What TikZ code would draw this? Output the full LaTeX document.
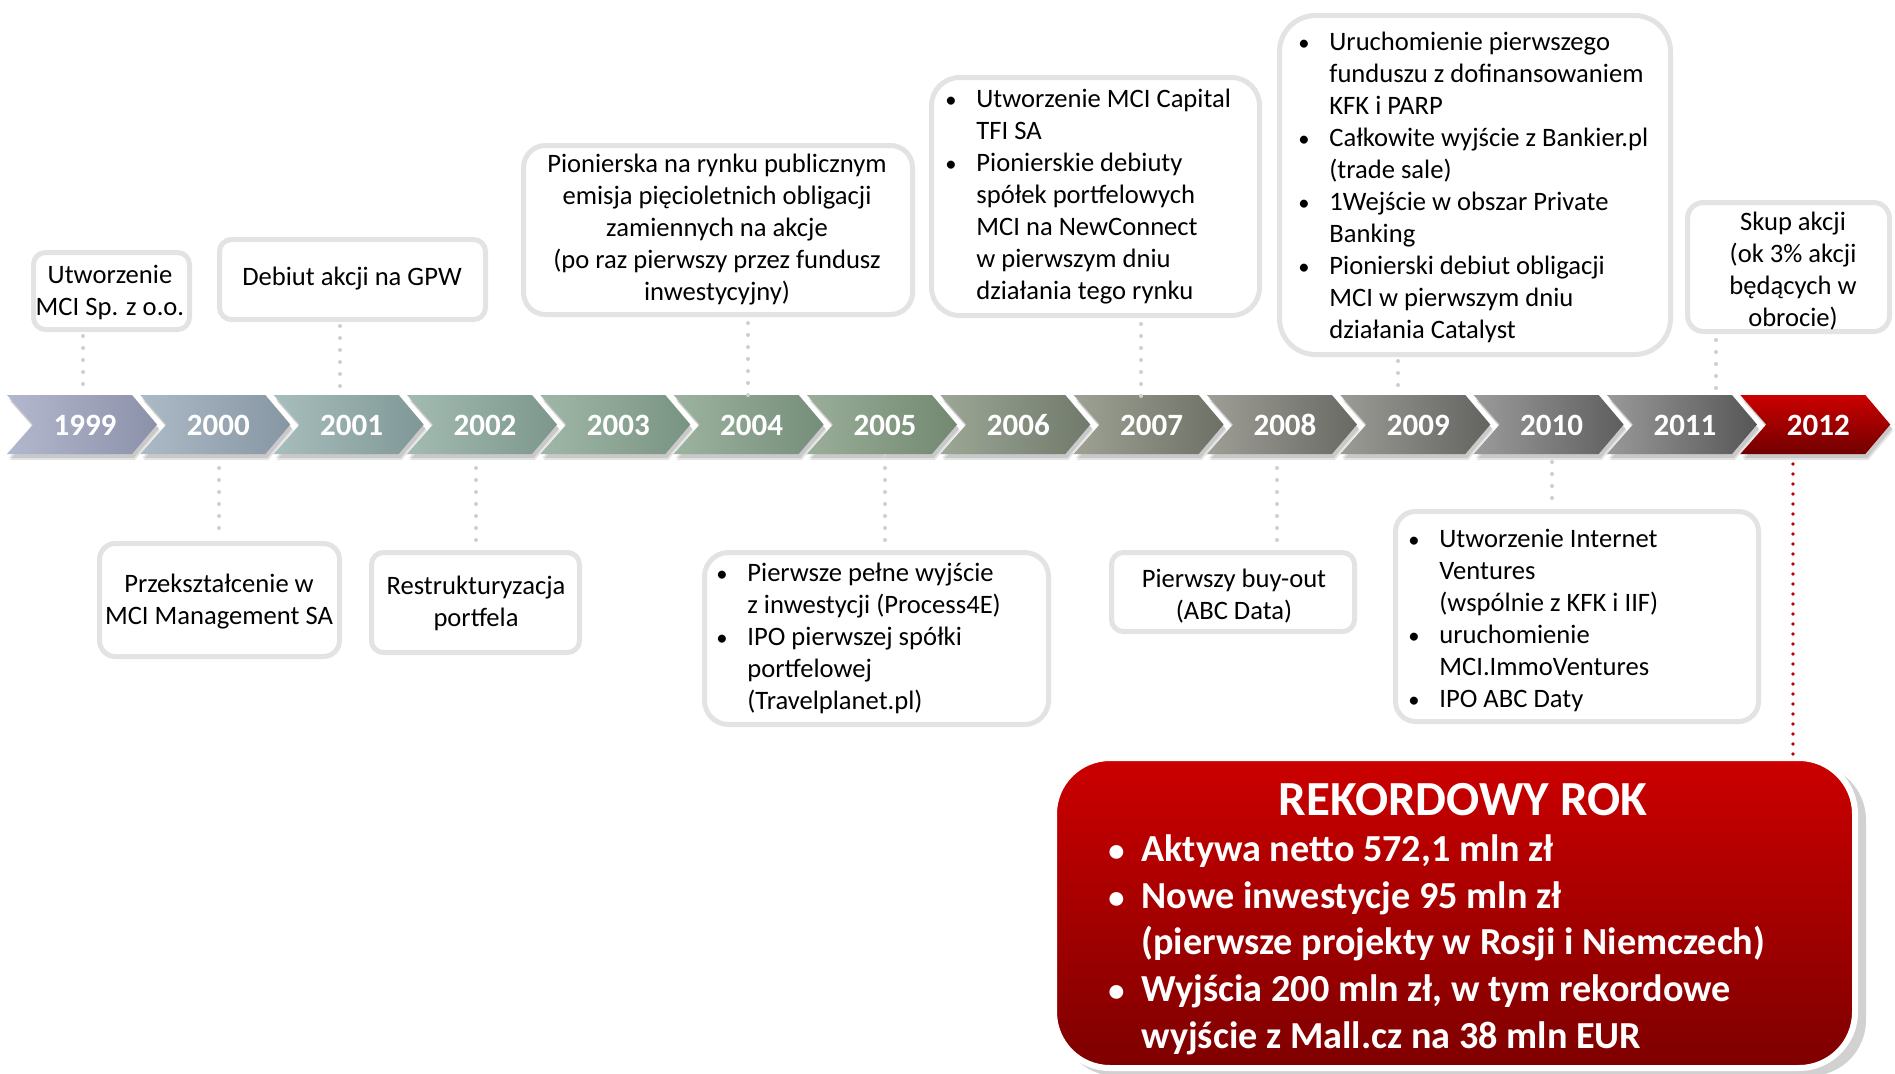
\documentclass[tikz,border=0pt]{standalone}
\usepackage{fontspec}
\setmainfont{Carlito}
\usetikzlibrary{calc}
\definecolor{boxline}{HTML}{E3E3E3}
\definecolor{dotc}{HTML}{CFCFCF}
\definecolor{redtop}{HTML}{CC0000}
\definecolor{redbot}{HTML}{7E0000}
\definecolor{reddotc}{HTML}{C00000}
\newcommand\bfnt{\fontsize{13.3}{16}\selectfont}
\newcommand\yfnt{\fontsize{15.5}{18}\selectfont\bfseries}
\newcommand\rtfnt{\fontsize{24.5}{28}\selectfont\bfseries}
\newcommand\rfnt{\fontsize{19.1}{23.3}\selectfont\bfseries}
\newcommand\bl{\makebox[15.5pt][l]{\scalebox{0.85}{•}}}
\newcommand\rbl{\makebox[16.5pt][l]{\scalebox{0.85}{•}}}
\begin{document}
\begin{tikzpicture}[x=0.5pt,y=-0.5pt,
  evbox/.style={draw=boxline, line width=2.5pt, fill=white, inner sep=0pt},
  dotline/.style={draw=dotc, line width=2pt, line cap=round, dash pattern=on 0pt off 6pt},
  reddot/.style={draw=reddotc, line width=1.8pt, line cap=round, dash pattern=on 0pt off 5pt},
  txt/.style={inner sep=0pt, font=\bfnt, align=center, text=black},
  ltxt/.style={inner sep=0pt, font=\bfnt, anchor=west, text=black},
  year/.style={font=\yfnt, text=white, inner sep=0pt}]
\useasboundingbox (0,0) rectangle (1895,1073);
\fill[white] (0,0) rectangle (1895,1073);

% ---------- chevrons ----------
\foreach \yr/\cl/\cr [count=\i from 0] in {
  1999/B3B8CE/8C91AA, 2000/ACBAC6/8796A3, 2001/A7BEBD/7F9796,
  2002/A3BBB1/7D978D, 2003/9FB7A7/799383, 2004/9CB39F/758E79,
  2005/9AAE99/728870, 2006/9CA796/70796A, 2007/9EA294/6D7065,
  2008/9E9E97/696963, 2009/9B9B96/636360, 2010/9B9B9B/5E5E5E,
  2011/999999/565656} {
  \pgfmathsetmacro{\L}{7+133.33*\i}
  \definecolor{cl\i}{HTML}{\cl}
  \definecolor{cr\i}{HTML}{\cr}
  \fill[black,opacity=0.10] (\L+3,401) -- ++(125,0) -- ++(25,29.5) -- ++(-25,29.5) -- ++(-125,0) -- ++(26,-29.5) -- cycle;
  \fill[black,opacity=0.12] (\L+2,399) -- ++(125,0) -- ++(25,29.5) -- ++(-25,29.5) -- ++(-125,0) -- ++(26,-29.5) -- cycle;
  \shade[left color=cl\i, right color=cr\i] (\L,395) -- ++(125,0) -- ++(25,29.5) -- ++(-25,29.5) -- ++(-125,0) -- ++(26,-29.5) -- cycle;
  \node[year] (y\yr) at (\L+78,425) {\yr};
}
\pgfmathsetmacro{\L}{7+133.33*13}
\fill[black,opacity=0.10] (\L+3,401) -- ++(125,0) -- ++(25,29.5) -- ++(-25,29.5) -- ++(-125,0) -- ++(26,-29.5) -- cycle;
\fill[black,opacity=0.12] (\L+2,399) -- ++(125,0) -- ++(25,29.5) -- ++(-25,29.5) -- ++(-125,0) -- ++(26,-29.5) -- cycle;
\shade[top color=redtop, bottom color=redbot!90!black] (\L,395) -- ++(125,0) -- ++(25,29.5) -- ++(-25,29.5) -- ++(-125,0) -- ++(26,-29.5) -- cycle;
\node[year] (y2012) at (\L+78,425) {2012};

% ---------- top boxes ----------
\node[evbox, rounded corners=6pt, minimum width=78pt, minimum height=38.5pt] (b1) at (111.5,291) {};
\node[txt] (t1) at (110,292) {Utworzenie\\MCI Sp. z o.o.};

\node[evbox, rounded corners=6pt, minimum width=133pt, minimum height=40pt] (b2) at (352.5,279.5) {};
\node[txt] (t2) at (352,278.5) {Debiut akcji na GPW};

\node[evbox, rounded corners=11pt, minimum width=194.5pt, minimum height=84.5pt] (b3) at (718,230) {};
\node[txt] (t3) at (717,229.5) {Pionierska na rynku publicznym\\emisja pięcioletnich obligacji\\zamiennych na akcje\\(po raz pierwszy przez fundusz\\inwestycyjny)};

\node[evbox, rounded corners=14pt, minimum width=164pt, minimum height=119pt] (b4) at (1095.5,196.5) {};
\node[ltxt] (t4) at (945,197.5) {\begin{tabular}{@{}l@{}l@{}}
\bl & Utworzenie MCI Capital\\
    & TFI SA\\
\bl & Pionierskie debiuty\\
    & spółek portfelowych\\
    & MCI na NewConnect\\
    & w pierwszym dniu\\
    & działania tego rynku
\end{tabular}};

\node[evbox, rounded corners=18pt, minimum width=195.5pt, minimum height=169.5pt] (b5) at (1475,185) {};
\node[ltxt] (t5) at (1298,188.5) {\begin{tabular}{@{}l@{}l@{}}
\bl & Uruchomienie pierwszego\\
    & funduszu z dofinansowaniem\\
    & KFK i PARP\\
\bl & Całkowite wyjście z Bankier.pl\\
    & (trade sale)\\
\bl & 1Wejście w obszar Private\\
    & Banking\\
\bl & Pionierski debiut obligacji\\
    & MCI w pierwszym dniu\\
    & działania Catalyst
\end{tabular}};

\node[evbox, rounded corners=8pt, minimum width=101pt, minimum height=64.5pt] (b6) at (1788.5,267) {};
\node[txt] (t6) at (1793,271) {Skup akcji\\(ok 3\% akcji\\będących w\\obrocie)};

% ---------- bottom boxes ----------
\node[evbox, rounded corners=8pt, minimum width=120pt, minimum height=56.5pt] (b7) at (219.5,600) {};
\node[txt] (t7) at (219,601.5) {Przekształcenie w\\MCI Management SA};

\node[evbox, rounded corners=6pt, minimum width=104pt, minimum height=50pt] (b8) at (475.5,602.5) {};
\node[txt] (t8) at (476,603) {Restrukturyzacja\\portfela};

\node[evbox, rounded corners=12pt, minimum width=172pt, minimum height=86pt] (b9) at (876.5,638.5) {};
\node[ltxt] (t9) at (716,639.2) {\begin{tabular}{@{}l@{}l@{}}
\bl & Pierwsze pełne wyjście\\
    & z inwestycji (Process4E)\\
\bl & IPO pierwszej spółki\\
    & portfelowej\\
    & (Travelplanet.pl)
\end{tabular}};

\node[evbox, rounded corners=6pt, minimum width=121.5pt, minimum height=39.5pt] (b10) at (1233,592) {};
\node[txt] (t10) at (1234,596) {Pierwszy buy-out\\(ABC Data)};

\node[evbox, rounded corners=10pt, minimum width=181.5pt, minimum height=105pt] (b11) at (1577,616.5) {};
\node[ltxt] (t11) at (1408,621) {\begin{tabular}{@{}l@{}l@{}}
\bl & Utworzenie Internet\\
    & Ventures\\
    & (wspólnie z KFK i IIF)\\
\bl & uruchomienie\\
    & MCI.ImmoVentures\\
\bl & IPO ABC Daty
\end{tabular}};

% ---------- dotted connectors ----------
\coordinate (c1) at (83,392);
\coordinate (c2) at (340,392);
\coordinate (c3) at (748,396);
\coordinate (c4) at (1141,396);
\coordinate (c5) at (1398,392);
\coordinate (c6) at (1716,392);
\draw[dotline] ([yshift=-2pt]b1.south -| c1) -- (c1);
\draw[dotline] ([yshift=-2pt]b2.south -| c2) -- (c2);
\draw[dotline] ([yshift=-3pt]b3.south -| c3) -- (c3);
\draw[dotline] ([yshift=-3pt]b4.south -| c4) -- (c4);
\draw[dotline] ([yshift=-2pt]b5.south -| c5) -- (c5);
\draw[dotline] ([yshift=-3pt]b6.south -| c6) -- (c6);

\coordinate (d7) at (219,468);
\coordinate (d8) at (476,468);
\coordinate (d9) at (885,456);
\coordinate (d10) at (1277,468);
\coordinate (d11) at (1552,462);
\draw[dotline] (d7) -- ([yshift=4pt]b7.north -| d7);
\draw[dotline] (d8) -- ([yshift=4pt]b8.north -| d8);
\draw[dotline] (d9) -- ([yshift=2pt]b9.north -| d9);
\draw[dotline] (d10) -- ([yshift=4pt]b10.north -| d10);
\draw[dotline] (d11) -- ([yshift=3pt]b11.north -| d11);

% ---------- red box ----------
\fill[black,opacity=0.18,rounded corners=28pt] (1060,764) rectangle (1866,1076);
\node[draw=white, line width=3pt, rounded corners=28pt, top color=redtop, bottom color=redbot,
      minimum width=400.5pt, minimum height=155pt, inner sep=0pt] (rb) at (1454.5,913) {};
\coordinate (r1) at (1793,464);
\draw[reddot] (r1) -- ([yshift=-2pt]rb.north -| r1);
\node[font=\rtfnt, text=white, inner sep=0pt] (rt) at (1463,800) {REKORDOWY ROK};
\node[font=\rfnt, text=white, inner sep=0pt, anchor=west] (rl) at (1108,945.5) {\begin{tabular}{@{}l@{}l@{}}
\rbl & Aktywa netto 572,1 mln zł\\
\rbl & Nowe inwestycje 95 mln zł\\
     & (pierwsze projekty w Rosji i Niemczech)\\
\rbl & Wyjścia 200 mln zł, w tym rekordowe\\
     & wyjście z Mall.cz na 38 mln EUR
\end{tabular}};
\end{tikzpicture}
\end{document}
